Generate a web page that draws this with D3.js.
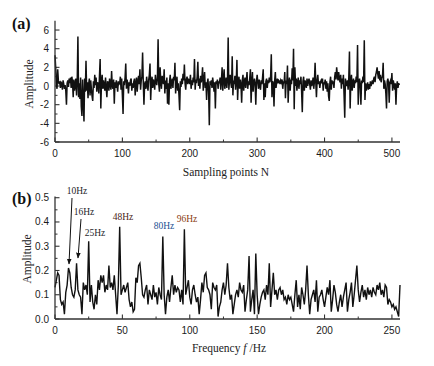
<!DOCTYPE html>
<html>
<head>
<meta charset="utf-8">
<script src="https://cdn.jsdelivr.net/npm/d3@7"></script>
<style>
  body { margin: 0; background: #fff; }
  svg { display: block; }
  .tick-label { font-family: "Liberation Sans", Arial, sans-serif; font-size: 10px; fill: #1a1a1a; }
  .axis-title { font-family: "Liberation Serif", "Times New Roman", serif; font-size: 11.5px; fill: #222; }
  .panel-tag { font-family: "Liberation Serif", serif; font-size: 16px; font-weight: bold; fill: #111; }
  .peak-label { font-family: "Liberation Serif", serif; font-size: 9.5px; }
</style>
</head>
<body>
<div id="chart"></div>
<script>
// (a) time signal, one value per sampling point
const signal = [
  3.3, 2.0, 0.2, -0.3, 1.8, 0.6, 0.2, 0.5, -0.2, 0.4, 0.3, -0.4, 0.6, 0.2, -0.3, 0.1, -0.5, -2.0, 0.3, 0.6,
  -0.1, 0.8, 0.3, 0.9, -0.2, 1.0, 0.4, -1.2, 0.7, -0.5, 0.2, 0.8, -1.0, 0.6, 5.3, -1.2, 0.3, -1.4, 0.9, -2.2,
  -3.2, 0.7, -1.6, -3.8, 0.8, -0.6, 2.7, -0.5, 0.4, -1.3, 0.2, 0.8, -1.0, 0.6, -0.3, -1.1, -1.6, 0.5, -0.2, 1.2,
  0.1, 0.9, -0.6, 0.4, 0.2, -0.8, 1.1, 2.9, -2.4, 0.5, 1.2, -0.3, 0.6, 0.1, -0.5, 0.9, -0.2, -1.2, 0.5, 0.3,
  -0.5, 0.8, 0.2, -0.4, 1.6, 0.0, -0.3, 0.7, -1.9, 0.4, -0.2, 0.6, 0.1, -0.6, 0.5, 0.2, 0.3, 1.0, -0.4, 0.8,
  -1.0, -3.0, 0.5, 0.1, 0.9, 2.4, -0.3, 0.7, 0.2, -0.8, 0.4, 0.0, 0.6, 0.8, -0.5, 0.3, -0.2, 0.5, 0.8, -1.0,
  0.3, 0.9, -0.6, 0.4, 1.1, 0.2, 1.8, -0.4, 0.6, 1.0, 3.6, 0.4, -2.0, 0.2, 0.5, -0.3, 1.0, 0.2, -0.5, 0.6,
  1.2, 2.4, -1.5, 0.4, 1.0, -0.2, 0.7, 0.3, -0.4, 1.2, 0.5, 0.1, 0.8, 5.0, 0.2, -0.6, 2.0, 0.4, -0.3, 1.1,
  0.5, 0.2, 1.8, -0.8, 0.6, -0.3, 0.9, -1.9, 0.3, -2.0, 0.5, 1.2, -0.3, 0.4, 0.8, -0.2, 1.0, 0.6, 2.5, -0.8,
  0.4, 1.0, -0.5, 0.3, -1.0, -2.6, 0.5, -0.1, 0.8, 0.2, 1.3, 0.6, 2.3, 0.3, -0.4, 0.7, 1.0, 0.2, 0.8, 0.5,
  0.2, 1.2, -0.3, 0.6, 0.1, 0.9, 0.4, 2.9, -0.4, 0.7, 0.3, 1.0, 2.6, 0.0, 0.8, -0.3, 1.1, 0.4, 0.9, 2.0,
  -0.5, 0.6, 1.5, -0.2, 0.4, -1.5, 0.3, 0.8, -0.6, -4.2, 0.5, 0.1, 0.6, -0.2, 0.9, 0.3, -0.6, 0.4, -2.4, 0.5,
  0.2, 0.7, -0.3, 0.5, 0.3, 0.9, -0.4, 0.6, 2.0, -0.5, 0.8, 1.8, -0.3, 0.4, 0.9, -0.2, 0.7, 5.2, -0.4, 0.6,
  1.2, 0.3, -0.2, 3.2, -1.0, 0.6, 0.2, 1.1, -0.4, 0.5, 2.8, -1.5, 0.4, 1.0, -0.3, 0.7, 0.2, -1.8, 0.6, 1.2,
  -0.5, 0.4, 0.9, -0.2, 0.6, 1.5, -0.3, 0.5, 0.1, 0.8, 1.8, -1.8, 0.4, 1.5, -0.6, 0.3, 0.8, 0.2, -2.0, 0.5,
  1.2, 0.4, -0.3, 0.7, 0.0, -0.4, 0.6, 0.2, 0.9, 1.8, -1.5, 0.3, -1.2, 0.5, 0.8, -0.2, 0.6, 0.3, 0.9, 0.4,
  1.0, 3.4, -1.2, 0.5, 0.3, -2.2, 0.6, 1.5, -0.2, 0.4, 0.8, 0.3, 0.6, 0.5, 0.2, 0.6, 0.4, 0.7, -0.3, 0.5,
  0.3, 1.5, -1.3, 0.6, 0.2, 2.2, -1.8, 0.3, 0.9, -0.5, 0.7, 0.2, 1.9, 0.6, 4.0, -2.5, 2.0, 0.0, 0.8, -0.5,
  0.4, 0.9, -0.3, 0.6, 0.2, 1.0, -0.6, -2.8, 0.5, 1.0, -0.5, 0.6, 0.3, -0.2, 0.8, 0.0, 0.5, 0.8, 0.2, -0.4,
  0.6, 0.0, 0.3, 0.9, -0.3, 0.5, 2.5, 0.4, -1.2, 0.6, 1.2, 0.2, 0.5, -0.2, 0.4, 0.6, 0.3, 0.8, -0.5, 0.4,
  0.2, 0.7, -0.3, 0.5, -0.6, 0.3, -1.1, -1.6, 0.4, 1.0, -0.4, 0.6, 0.2, 0.5, -0.2, 0.9, 1.5, 0.7, 2.0, 1.2,
  0.6, 1.5, 0.8, 0.4, 1.2, -0.3, 0.8, 0.2, 1.2, -1.0, -3.4, 0.8, 0.2, 0.0, 0.6, -0.4, 0.9, 3.7, -2.4, 0.5,
  1.2, -0.5, 0.3, 0.8, -0.2, 0.6, 0.3, 1.0, 0.4, 4.4, -2.0, 0.2, 0.8, 0.0, -2.0, 0.6, 0.3, 1.0, 0.4, 4.9,
  -1.5, 0.3, -0.5, 0.0, 0.4, -0.4, 0.2, -0.3, 0.5, 0.0, 0.3, 0.6, 0.2, 0.8, 1.0, 0.4, 1.2, 1.5, 2.0, 1.3,
  0.8, 1.6, 0.6, 1.2, 0.4, 0.9, 1.0, 2.5, -0.3, 0.6, 0.2, -0.8, -2.4, 0.5, 0.8, 0.3, -1.8, 0.4, 0.6, 0.2,
  1.4, -0.5, 0.6, 0.2, -0.4, 0.3, -2.0, 0.0, 0.5, -0.2, 0.3, 0.1
];

// (b) amplitude spectrum, one value per Hz (0..256)
const spectrum = [
  0.13, 0.16, 0.19, 0.18, 0.08, 0.06, 0.07, 0.02, 0.11, 0.14,
  0.21, 0.19, 0.13, 0.10, 0.09, 0.12, 0.23, 0.12, 0.10, 0.09,
  0.02, 0.15, 0.12, 0.14, 0.10, 0.32, 0.07, 0.14, 0.07, 0.04,
  0.10, 0.06, 0.16, 0.12, 0.18, 0.15, 0.18, 0.11, 0.14, 0.12,
  0.22, 0.13, 0.15, 0.12, 0.18, 0.10, 0.02, 0.14, 0.38, 0.10,
  0.12, 0.14, 0.11, 0.13, 0.15, 0.08, 0.05, 0.07, 0.03, 0.04,
  0.17, 0.15, 0.22, 0.23, 0.17, 0.10, 0.09, 0.12, 0.14, 0.06,
  0.12, 0.10, 0.08, 0.14, 0.09, 0.11, 0.06, 0.13, 0.10, 0.08,
  0.34, 0.10, 0.02, 0.09, 0.12, 0.07, 0.13, 0.18, 0.10, 0.14,
  0.11, 0.13, 0.12, 0.07, 0.12, 0.06, 0.37, 0.10, 0.13, 0.16,
  0.09, 0.06, 0.12, 0.14, 0.10, 0.07, 0.09, 0.02, 0.08, 0.15,
  0.11, 0.18, 0.19, 0.13, 0.12, 0.10, 0.04, 0.15, 0.13, 0.12,
  0.14, 0.01, 0.05, 0.07, 0.12, 0.15, 0.10, 0.14, 0.23, 0.13,
  0.08, 0.10, 0.02, 0.06, 0.10, 0.12, 0.09, 0.15, 0.12, 0.11,
  0.14, 0.03, 0.08, 0.12, 0.26, 0.03, 0.08, 0.12, 0.02, 0.27,
  0.10, 0.02, 0.06, 0.09, 0.11, 0.12, 0.08, 0.14, 0.10, 0.23,
  0.05, 0.12, 0.19, 0.10, 0.12, 0.08, 0.12, 0.13, 0.10, 0.12,
  0.08, 0.09, 0.06, 0.10, 0.08, 0.09, 0.06, 0.03, 0.10, 0.16,
  0.05, 0.10, 0.04, 0.13, 0.10, 0.06, 0.12, 0.22, 0.10, 0.02,
  0.08, 0.10, 0.12, 0.07, 0.16, 0.03, 0.09, 0.10, 0.12, 0.08,
  0.05, 0.09, 0.13, 0.10, 0.16, 0.03, 0.08, 0.14, 0.11, 0.06,
  0.03, 0.07, 0.10, 0.05, 0.09, 0.12, 0.15, 0.03, 0.08, 0.11,
  0.15, 0.05, 0.10, 0.16, 0.22, 0.12, 0.07, 0.11, 0.14, 0.09,
  0.12, 0.08, 0.13, 0.10, 0.12, 0.09, 0.13, 0.11, 0.10, 0.14,
  0.12, 0.15, 0.10, 0.12, 0.09, 0.14, 0.13, 0.06, 0.08, 0.07,
  0.05, 0.06, 0.04, 0.05, 0.03, 0.01, 0.14
];

const timeTicks = [0, 100, 200, 300, 400, 500];
const ampTicksA = [-6, -4, -2, 0, 2, 4, 6];
const freqTicks = [0, 50, 100, 150, 200, 250];
const ampTicksB = [0.0, 0.1, 0.2, 0.3, 0.4, 0.5];

// peak annotations: label position and optional arrow
const peaks = [
  { f: 10, label: "10Hz", color: "#1e1e2a", tx: 77, ty: 194, arrow: [72, 198, 69, 264] },
  { f: 16, label: "16Hz", color: "#1e1e2a", tx: 84, ty: 215, arrow: [81, 219, 78, 258] },
  { f: 25, label: "25Hz", color: "#1e1e2a", tx: 95, ty: 236, arrow: null },
  { f: 48, label: "48Hz", color: "#4a2418", tx: 123, ty: 220, arrow: null },
  { f: 80, label: "80Hz", color: "#1d4f91", tx: 164, ty: 229, arrow: null },
  { f: 96, label: "96Hz", color: "#8a3c10", tx: 187, ty: 222, arrow: null }
];

const W = 434, H = 366;
const svg = d3.select("#chart").append("svg").attr("width", W).attr("height", H);

svg.append("defs").append("marker")
  .attr("id", "arrowhead")
  .attr("viewBox", "0 0 10 10")
  .attr("refX", 9).attr("refY", 5)
  .attr("markerWidth", 6).attr("markerHeight", 6)
  .attr("orient", "auto")
  .append("path").attr("d", "M0,1 L10,5 L0,9 z").attr("fill", "#111");

function drawPanel(opt) {
  const g = svg.append("g");
  const x = d3.scaleLinear().domain(opt.xDomain).range([opt.left, opt.right]);
  const y = d3.scaleLinear().domain(opt.yDomain).range([opt.bottom, opt.top]);

  // minor ticks (inward, short)
  g.selectAll(".xminor").data(opt.xMinor).enter().append("line")
    .attr("x1", d => x(d)).attr("x2", d => x(d))
    .attr("y1", opt.bottom).attr("y2", opt.bottom - 2.5)
    .attr("stroke", "#333").attr("stroke-width", 1);
  g.selectAll(".yminor").data(opt.yMinor).enter().append("line")
    .attr("x1", opt.left).attr("x2", opt.left + 2.5)
    .attr("y1", d => y(d)).attr("y2", d => y(d))
    .attr("stroke", "#333").attr("stroke-width", 1);

  // major ticks
  g.selectAll(".xmajor").data(opt.xTicks).enter().append("line")
    .attr("x1", d => x(d)).attr("x2", d => x(d))
    .attr("y1", opt.bottom).attr("y2", opt.bottom - 4.5)
    .attr("stroke", "#333").attr("stroke-width", 1.1);
  g.selectAll(".ymajor").data(opt.yTicks).enter().append("line")
    .attr("x1", opt.left).attr("x2", opt.left + 4.5)
    .attr("y1", d => y(d)).attr("y2", d => y(d))
    .attr("stroke", "#333").attr("stroke-width", 1.1);

  // the data line
  const line = d3.line().x((d, i) => x(i)).y(d => y(d));
  g.append("path").datum(opt.data)
    .attr("d", line)
    .attr("fill", "none")
    .attr("stroke", "#111")
    .attr("stroke-width", opt.lineWidth)
    .attr("stroke-linejoin", "miter");

  // axis lines
  g.append("line").attr("x1", opt.left).attr("x2", opt.left)
    .attr("y1", opt.bottom).attr("y2", y(opt.yDomain[1]))
    .attr("stroke", "#333").attr("stroke-width", 1.3);
  g.append("line").attr("x1", opt.left).attr("x2", x(opt.xDomain[1]))
    .attr("y1", opt.bottom).attr("y2", opt.bottom)
    .attr("stroke", "#333").attr("stroke-width", 1.3);

  // tick labels
  g.selectAll(".xlab").data(opt.xTicks).enter().append("text")
    .attr("class", "tick-label")
    .attr("x", d => x(d)).attr("y", opt.bottom + 15)
    .attr("text-anchor", "middle")
    .text(d => d);
  g.selectAll(".ylab").data(opt.yTicks).enter().append("text")
    .attr("class", "tick-label")
    .attr("x", opt.left - 6).attr("y", d => y(d) + 3.5)
    .attr("text-anchor", "end")
    .text(opt.yFormat);

  // titles
  g.append("text").attr("class", "axis-title")
    .attr("transform", `translate(${opt.yTitleX},${opt.yTitleY}) rotate(-90)`)
    .attr("text-anchor", "middle")
    .text("Amplitude");
  g.append("text").attr("class", "panel-tag")
    .attr("x", 12).attr("y", opt.tagY).text(opt.tag);

  return { g, x, y };
}

// panel (a)
const pa = drawPanel({
  data: signal, lineWidth: 1.5,
  xDomain: [0, 512], yDomain: [-6, 7],
  left: 55, right: 400, top: 20.7, bottom: 142,
  xTicks: timeTicks, xMinor: [50, 150, 250, 350, 450],
  yTicks: ampTicksA, yMinor: [-5, -3, -1, 1, 3, 5],
  yFormat: d => d,
  yTitleX: 33, yTitleY: 84, tag: "(a)", tagY: 29
});
pa.g.append("text").attr("class", "axis-title")
  .attr("x", 226).attr("y", 176).attr("text-anchor", "middle")
  .text("Sampling points N");

// panel (b)
const pb = drawPanel({
  data: spectrum, lineWidth: 1.4,
  xDomain: [0, 256], yDomain: [0, 0.505],
  left: 55, right: 400, top: 196.5, bottom: 319,
  xTicks: freqTicks, xMinor: [25, 75, 125, 175, 225],
  yTicks: ampTicksB, yMinor: [0.05, 0.15, 0.25, 0.35, 0.45],
  yFormat: d => d.toFixed(1),
  yTitleX: 31, yTitleY: 259, tag: "(b)", tagY: 204
});
const ft = pb.g.append("text").attr("class", "axis-title")
  .attr("x", 229).attr("y", 352).attr("text-anchor", "middle");
ft.append("tspan").text("Frequency ");
ft.append("tspan").attr("font-style", "italic").text("f");
ft.append("tspan").text(" /Hz");

// peak labels and arrows
peaks.forEach(p => {
  pb.g.append("text").attr("class", "peak-label")
    .attr("x", p.tx).attr("y", p.ty)
    .attr("text-anchor", "middle")
    .attr("fill", p.color)
    .text(p.label);
  if (p.arrow) {
    pb.g.append("line")
      .attr("x1", p.arrow[0]).attr("y1", p.arrow[1])
      .attr("x2", p.arrow[2]).attr("y2", p.arrow[3])
      .attr("stroke", "#111").attr("stroke-width", 1)
      .attr("marker-end", "url(#arrowhead)");
  }
});
</script>
</body>
</html>
